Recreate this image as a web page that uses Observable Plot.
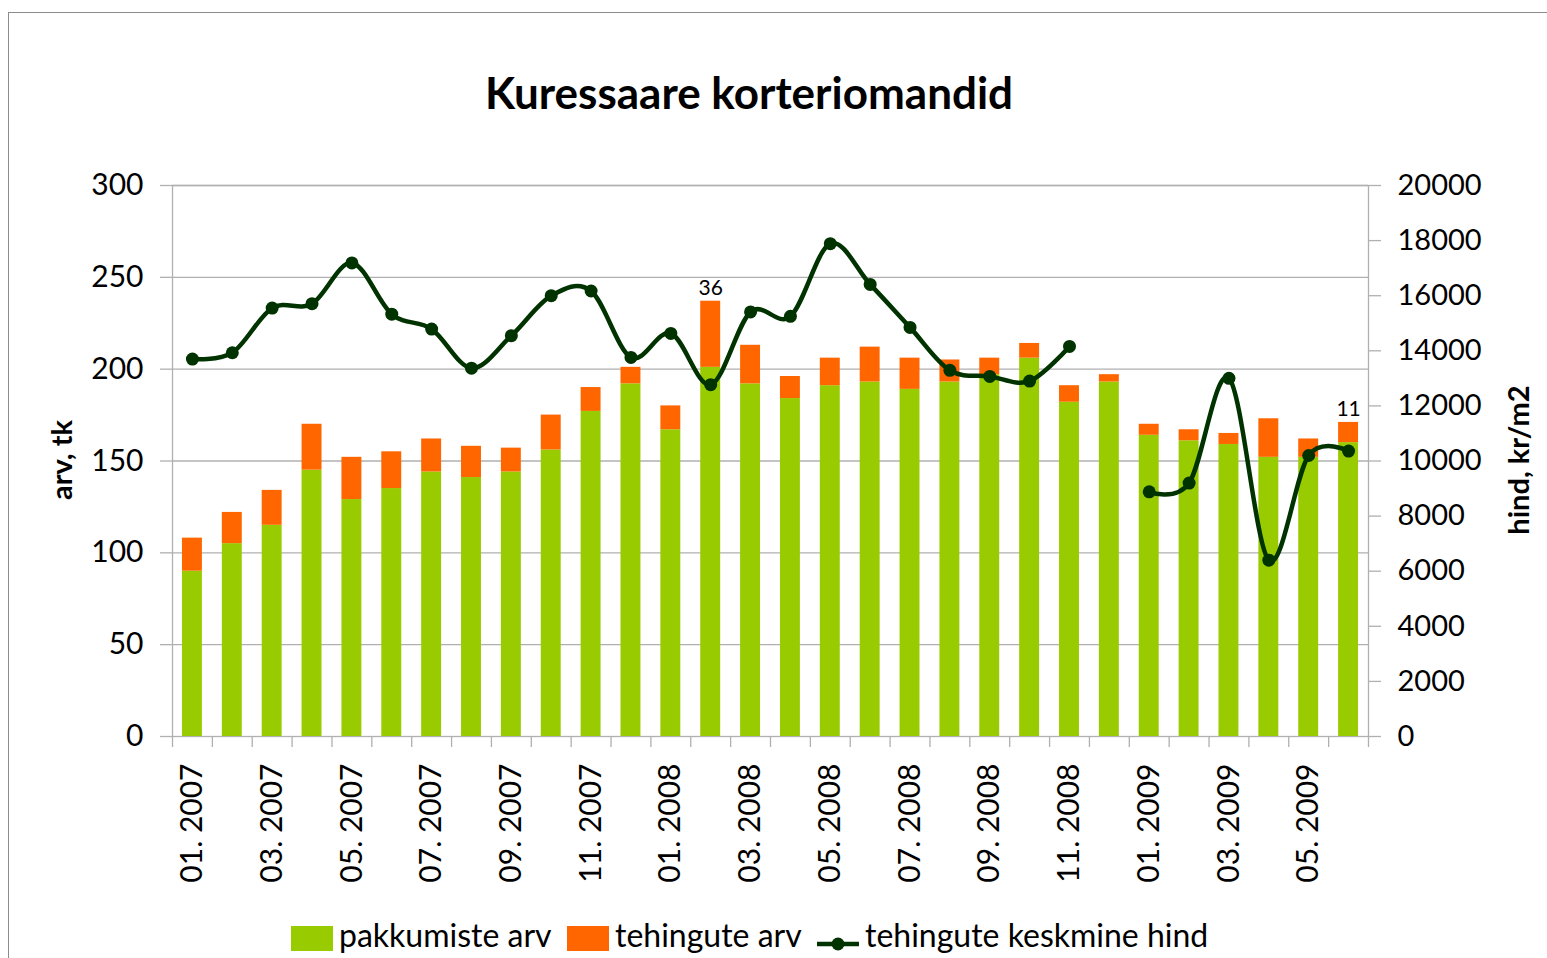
<!DOCTYPE html>
<html>
<head>
<meta charset="utf-8">
<script src="https://cdn.jsdelivr.net/npm/d3@7"></script>
<script src="https://cdn.jsdelivr.net/npm/@observablehq/plot@0.6"></script>
<style>
  body { margin: 0; background: #fff; font-family: Lato, "Open Sans", sans-serif; }
  #wrap { position: relative; width: 1547px; height: 958px; overflow: hidden; background: #fff; }
  #border { position: absolute; left: 8px; top: 12px; width: 1600px; height: 1000px; border: 1.5px solid #8c8c8c; box-sizing: border-box; }
  #title { position: absolute; left: 0; top: 66px; width: 1498px; text-align: center; font-weight: bold; font-size: 44px; color: #000; }
  #chart { position: absolute; left: 0; top: 150px; }
  .ytitle { position: absolute; font-weight: bold; font-size: 29px; color: #000; white-space: nowrap; transform: translate(-50%, -50%) rotate(-90deg); }
  #legend { position: absolute; left: 0; top: 914px; width: 1547px; height: 44px; font-size: 32px; color: #000; }
  .key { position: absolute; }
  .lab { position: absolute; top: 3px; white-space: nowrap; line-height: 36px; }
</style>
</head>
<body>
<div id="wrap">
  <div id="border"></div>
  <div id="title">Kuressaare korteriomandid</div>
  <div id="chart"></div>
  <div class="ytitle" style="left:60px; top:460px;">arv, tk</div>
  <div class="ytitle" style="left:1517px; top:460px;">hind, kr/m2</div>
  <div id="legend"></div>
</div>
<script>
// ---- data ----
const months = [
  "01. 2007","02. 2007","03. 2007","04. 2007","05. 2007","06. 2007",
  "07. 2007","08. 2007","09. 2007","10. 2007","11. 2007","12. 2007",
  "01. 2008","02. 2008","03. 2008","04. 2008","05. 2008","06. 2008",
  "07. 2008","08. 2008","09. 2008","10. 2008","11. 2008","12. 2008",
  "01. 2009","02. 2009","03. 2009","04. 2009","05. 2009","06. 2009"
];
// pakkumiste arv (offers)
const offers = [90,105,115,145,129,135,144,141,144,156,177,192,
                167,201,192,184,191,193,189,193,197,206,182,193,
                164,161,159,152,152,160];
// tehingute arv (deals)
const deals = [18,17,19,25,23,20,18,17,13,19,13,9,
               13,36,21,12,15,19,17,12,9,8,9,4,
               6,6,6,21,10,11];
// tehingute keskmine hind (kr/m2), null = no value
const prices = [13700,13930,15550,15710,17190,15330,14790,13370,14550,16000,16170,13760,
                14630,12770,15410,15250,17890,16410,14850,13290,13070,12900,14160,null,
                8880,9200,13000,6400,10200,10360];
const labelledMonths = ["02. 2008","06. 2009"];
const leftTicks = [0,50,100,150,200,250,300];
const rightTicks = [0,2000,4000,6000,8000,10000,12000,14000,16000,18000,20000];
const seriesNames = ["pakkumiste arv","tehingute arv","tehingute keskmine hind"];
const colors = ["#99cc00","#ff6600","#003300"];

// ---- layout ----
const W = 1547, H = 750;
const mL = 172, mR = 179, mT = 35, mB = 164;
const step = (W - mL - mR) / months.length;
const leftMax = leftTicks[leftTicks.length - 1];
const rightMax = rightTicks[rightTicks.length - 1];
const k = leftMax / rightMax; // price -> left scale

const bars = [];
months.forEach((m, i) => {
  bars.push({month: m, series: seriesNames[0], value: offers[i]});
  bars.push({month: m, series: seriesNames[1], value: deals[i]});
});
const line = months.map((m, i) => ({month: m, price: prices[i]}));
const labels = labelledMonths.map(m => {
  const i = months.indexOf(m);
  return {month: m, total: offers[i] + deals[i], text: String(deals[i])};
});

const grid = "#b0b0b0";
const chart = Plot.plot({
  width: W, height: H,
  marginLeft: mL, marginRight: mR, marginTop: mT, marginBottom: mB,
  style: {fontFamily: "Lato, 'Open Sans', sans-serif", color: "#000", background: "transparent"},
  x: {type: "band", domain: months, paddingInner: 0.5, paddingOuter: 0.25, round: false, label: null},
  y: {domain: [0, leftMax], label: null},
  color: {domain: seriesNames.slice(0, 2), range: colors.slice(0, 2)},
  marks: [
    Plot.gridY(leftTicks.slice(1), {stroke: grid, strokeOpacity: 1, strokeWidth: 1.3}),
    Plot.frame({stroke: grid, strokeWidth: 1.3}),
    // category boundary ticks
    Plot.ruleX(months, {x: d => d, dx: -step / 2, insetTop: H - mT - mB, insetBottom: -11, stroke: grid, strokeWidth: 1.3}),
    Plot.ruleX(months.slice(-1), {x: d => d, dx: step / 2, insetTop: H - mT - mB, insetBottom: -11, stroke: grid, strokeWidth: 1.3}),
    Plot.barY(bars, {x: "month", y: "value", fill: "series", order: seriesNames.slice(0, 2)}),
    Plot.line(line, {x: "month", y: d => d.price == null ? NaN : d.price * k, curve: "cardinal", stroke: colors[2], strokeWidth: 4.5}),
    Plot.dot(line.filter(d => d.price != null), {x: "month", y: d => d.price * k, r: 6.5, fill: colors[2], stroke: "none"}),
    Plot.text(labels, {x: "month", y: "total", text: "text", lineAnchor: "bottom", dy: -6, fontSize: 21, fill: "#000"}),
    Plot.axisY({anchor: "left", ticks: leftTicks, tickSize: 12, tickPadding: 17, fontSize: 30, stroke: grid, strokeWidth: 1.3, label: null}),
    Plot.axisY({anchor: "right", ticks: rightTicks.map(v => v * k), tickFormat: d => String(Math.round(d / k)), tickSize: 12, tickPadding: 17, fontSize: 29, stroke: grid, strokeWidth: 1.3, label: null}),
    Plot.axisX({ticks: months.filter((d, i) => i % 2 === 0), tickRotate: -90, tickSize: 0, tickPadding: 27, fontSize: 30, label: null})
  ]
});
document.getElementById("chart").appendChild(chart);

// ---- legend ----
const legend = document.getElementById("legend");
const items = [
  {left: 291, textLeft: 339, type: "rect", color: colors[0], name: seriesNames[0]},
  {left: 567, textLeft: 615, type: "rect", color: colors[1], name: seriesNames[1]},
  {left: 817, textLeft: 865, type: "line", color: colors[2], name: seriesNames[2]}
];
items.forEach(it => {
  const key = document.createElement("div");
  key.className = "key";
  if (it.type === "rect") {
    key.style.cssText = `left:${it.left}px;top:12px;width:42px;height:25px;background:${it.color}`;
  } else {
    key.style.cssText = `left:${it.left}px;top:11px;width:42px;height:26px`;
    key.innerHTML = `<svg width="42" height="26"><line x1="0" x2="42" y1="13" y2="13" stroke="${it.color}" stroke-width="4.5"/><circle cx="21" cy="13" r="6.5" fill="${it.color}"/></svg>`;
  }
  legend.appendChild(key);
  const lab = document.createElement("div");
  lab.className = "lab";
  lab.style.left = it.textLeft + "px";
  lab.textContent = it.name;
  legend.appendChild(lab);
});
</script>
</body>
</html>
